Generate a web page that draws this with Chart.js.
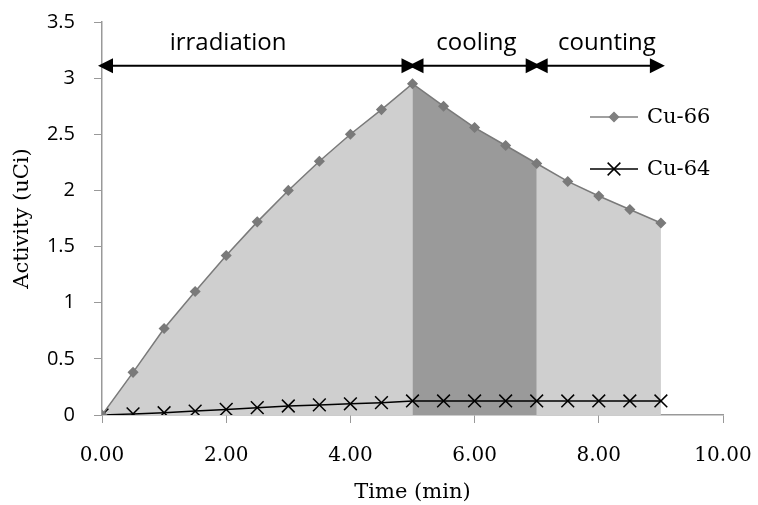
<!DOCTYPE html>
<html>
<head>
<meta charset="utf-8">
<script src="https://cdn.jsdelivr.net/npm/chart.js@4.4.1/dist/chart.umd.min.js"></script>
<style>
  html, body { margin: 0; padding: 0; background: #fff; }
</style>
</head>
<body>
<canvas id="activityChart" width="758" height="505"></canvas>
<script>
// time points (min) and activities (uCi)
const times = [0, 0.5, 1, 1.5, 2, 2.5, 3, 3.5, 4, 4.5, 5, 5.5, 6, 6.5, 7, 7.5, 8, 8.5, 9];
const cu66 = [0, 0.38, 0.77, 1.10, 1.42, 1.72, 2.00, 2.26, 2.50, 2.72, 2.95, 2.75, 2.56, 2.40, 2.24, 2.08, 1.95, 1.83, 1.71];
const cu64 = [0, 0.01, 0.02, 0.035, 0.05, 0.065, 0.08, 0.09, 0.10, 0.11, 0.125, 0.125, 0.125, 0.125, 0.125, 0.125, 0.125, 0.125, 0.125];

const xTicks = [0, 2, 4, 6, 8, 10];
const yTicks = [0, 0.5, 1, 1.5, 2, 2.5, 3, 3.5];

// phases marked by arrows above the curve
const phaseNames = ['irradiation', 'cooling', 'counting'];
const phaseBounds = [0, 5, 7, 9];
const phaseLabelX = [2.03, 6.03, 8.13];
const arrowY = 3.11;
const labelY = 3.31;

const coolStart = 5, coolEnd = 7;

const serif = 'DejaVu Serif';
const sans = 'Open Sans';

function pts(ys) {
    return times.map((t, i) => ({ x: t, y: ys[i] }));
}
const coolingPts = pts(cu66).filter(p => p.x >= coolStart && p.x <= coolEnd);

const phasePlugin = {
    id: 'phases',
    afterDatasetsDraw(chart) {
        const ctx = chart.ctx;
        const xs = chart.scales.x, ys = chart.scales.y;
        const ay = ys.getPixelForValue(arrowY);
        ctx.save();
        ctx.strokeStyle = '#000';
        ctx.fillStyle = '#000';
        ctx.lineWidth = 2;
        for (let i = 0; i < phaseNames.length; i++) {
            const x0 = xs.getPixelForValue(phaseBounds[i]);
            const x1 = xs.getPixelForValue(phaseBounds[i + 1]);
            ctx.beginPath();
            ctx.moveTo(x0 + 6, ay);
            ctx.lineTo(x1 - 6, ay);
            ctx.stroke();
            // heads
            ctx.beginPath();
            ctx.moveTo(x0 - 4, ay);
            ctx.lineTo(x0 + 11, ay - 7.5);
            ctx.lineTo(x0 + 11, ay + 7.5);
            ctx.closePath();
            ctx.fill();
            ctx.beginPath();
            ctx.moveTo(x1 + 4, ay);
            ctx.lineTo(x1 - 11, ay - 7.5);
            ctx.lineTo(x1 - 11, ay + 7.5);
            ctx.closePath();
            ctx.fill();
        }
        ctx.font = '24px "' + sans + '"';
        ctx.textAlign = 'center';
        ctx.textBaseline = 'middle';
        phaseNames.forEach((name, i) => {
            ctx.fillText(name, xs.getPixelForValue(phaseLabelX[i]), ys.getPixelForValue(labelY));
        });

        // legend
        const items = [
            { label: 'Cu-66', color: '#808080', style: 'rectRot', r: 4.5, y: 117 },
            { label: 'Cu-64', color: '#000', style: 'crossRot', r: 9, y: 169 }
        ];
        ctx.font = '21px "' + serif + '"';
        ctx.textAlign = 'left';
        items.forEach(it => {
            ctx.strokeStyle = it.color;
            ctx.fillStyle = it.color;
            ctx.lineWidth = 1.5;
            ctx.beginPath();
            ctx.moveTo(590, it.y);
            ctx.lineTo(638, it.y);
            ctx.stroke();
            Chart.helpers.drawPoint(ctx, { pointStyle: it.style, radius: it.r, borderWidth: 1.5, rotation: 0 }, 614, it.y);
            ctx.fillStyle = '#000';
            ctx.fillText(it.label, 647, it.y + 1);
        });
        ctx.restore();
    }
};

new Chart(document.getElementById('activityChart'), {
    type: 'line',
    data: {
        datasets: [
            {
                label: 'Cu-66',
                data: pts(cu66),
                borderColor: '#7a7a7a',
                backgroundColor: '#7a7a7a',
                borderWidth: 1.5,
                pointStyle: 'rectRot',
                pointRadius: 4.5,
                fill: false,
                tension: 0
            },
            {
                label: 'Cu-64',
                data: pts(cu64),
                borderColor: '#000',
                backgroundColor: '#000',
                borderWidth: 1.5,
                pointStyle: 'crossRot',
                pointRadius: 9,
                pointBorderWidth: 1.5,
                fill: false,
                tension: 0
            },
            {
                label: 'cooling',
                data: coolingPts,
                borderWidth: 0,
                pointRadius: 0,
                backgroundColor: '#9a9a9a',
                fill: 'origin'
            },
            {
                label: 'area',
                data: pts(cu66),
                borderWidth: 0,
                pointRadius: 0,
                backgroundColor: '#cfcfcf',
                fill: 'origin'
            }
        ]
    },
    options: {
        responsive: false,
        animation: false,
        layout: { padding: { top: 22, right: 35, left: 0, bottom: 0 } },
        plugins: {
            legend: { display: false },
            tooltip: { enabled: false }
        },
        scales: {
            x: {
                type: 'linear',
                min: 0,
                max: 10,
                afterFit: s => { s.height = 90; s.paddingLeft = 0; s.paddingRight = 0; },
                afterBuildTicks: s => { s.ticks = xTicks.map(v => ({ value: v })); },
                grid: { drawOnChartArea: false, color: '#999', tickLength: 8 },
                border: { color: '#999', width: 1.5 },
                ticks: {
                    color: '#000',
                    padding: 21,
                    font: { family: serif, size: 20 },
                    callback: v => v.toFixed(2)
                },
                title: {
                    display: true,
                    text: 'Time (min)',
                    color: '#000',
                    font: { family: serif, size: 21 },
                    padding: { top: 0, bottom: 0 }
                }
            },
            y: {
                min: 0,
                max: 3.5,
                afterFit: s => { s.width = 102; s.paddingTop = 0; s.paddingBottom = 0; },
                afterBuildTicks: s => { s.ticks = yTicks.map(v => ({ value: v })); },
                grid: { drawOnChartArea: false, color: '#999', tickLength: 8 },
                border: { color: '#999', width: 1.5 },
                ticks: {
                    color: '#000',
                    padding: 19,
                    font: { family: sans, size: 20 },
                    callback: v => String(v)
                },
                title: {
                    display: true,
                    text: 'Activity (uCi)',
                    color: '#000',
                    font: { family: serif, size: 21 },
                    padding: { top: 10, bottom: 0 }
                }
            }
        }
    },
    plugins: [phasePlugin]
});
</script>
</body>
</html>
